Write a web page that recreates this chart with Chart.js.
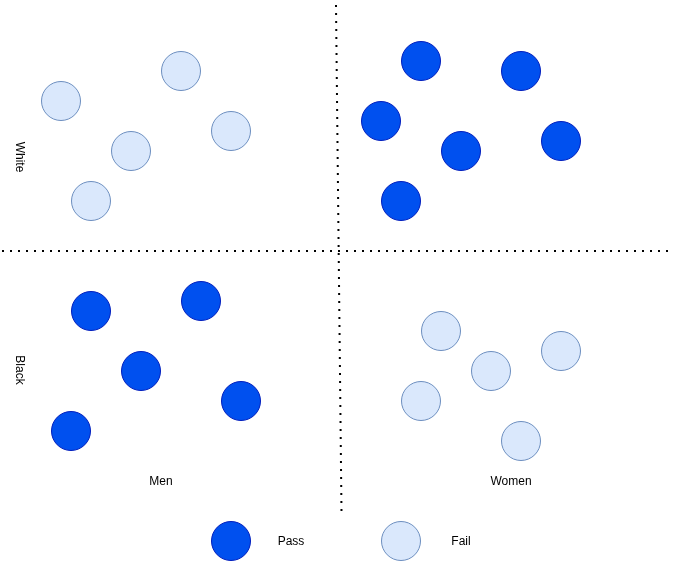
<!DOCTYPE html>
<html>
<head>
<meta charset="utf-8">
<script src="https://cdn.jsdelivr.net/npm/chart.js@4"></script>
<style>
  html, body { margin: 0; padding: 0; background: #ffffff; }
  #wrap { width: 673px; height: 562px; position: relative; }
</style>
</head>
<body>
<div id="wrap"><canvas id="c"></canvas></div>
<script>
// Diagram values (pixel-space coordinates of the reference diagram)
const passX = [421, 521, 381, 461, 561, 401, 91, 201, 141, 241, 71];
const passY = [61, 71, 121, 151, 141, 201, 311, 301, 371, 401, 431];
const failX = [61, 181, 131, 231, 91, 441, 561, 491, 421, 521];
const failY = [101, 71, 151, 131, 201, 331, 351, 371, 401, 441];
const legendLabels = ['Pass', 'Fail'];
const legendX = [231, 401];
const legendY = [541, 541];
const groupLabels = ['Men', 'Women'];
const groupX = [161, 511];
const groupY = [482, 482];
const rowLabels = ['White', 'Black'];
const rowX = [19, 19];
const rowY = [157, 370];
const dividerV = [{x: 336, y: 5}, {x: 341.5, y: 512}];
const dividerH = [{x: 2, y: 251}, {x: 672, y: 251}];

const PASS_FILL = '#0050EF', PASS_STROKE = '#001DBC';
const FAIL_FILL = '#DAE8FC', FAIL_STROKE = '#6C8EBF';

const toPts = (xs, ys) => xs.map((x, i) => ({x: x, y: ys[i]}));

const textPlugin = {
  id: 'texts',
  afterDatasetsDraw(chart) {
    const ctx = chart.ctx;
    const sx = chart.scales.x, sy = chart.scales.y;
    ctx.save();
    ctx.fillStyle = '#000000';
    ctx.font = '12px "Liberation Sans", Arial, sans-serif';
    ctx.textAlign = 'center';
    ctx.textBaseline = 'middle';
    groupLabels.forEach((t, i) => ctx.fillText(t, sx.getPixelForValue(groupX[i]), sy.getPixelForValue(groupY[i])));
    legendLabels.forEach((t, i) => ctx.fillText(t, sx.getPixelForValue(legendX[i] + 60), sy.getPixelForValue(legendY[i] + 1)));
    rowLabels.forEach((t, i) => {
      ctx.save();
      ctx.translate(sx.getPixelForValue(rowX[i]), sy.getPixelForValue(rowY[i]));
      ctx.rotate(Math.PI / 2);
      ctx.fillText(t, 0, 0);
      ctx.restore();
    });
    ctx.restore();
  }
};

const ptStyle = (fill, stroke) => ({
  showLine: false,
  pointStyle: 'circle',
  pointRadius: 19.5,
  pointHoverRadius: 19.5,
  pointBorderWidth: 1,
  pointBackgroundColor: fill,
  pointBorderColor: stroke,
  backgroundColor: fill,
  borderColor: stroke,
  clip: false
});

const lineStyle = {
  showLine: true,
  pointRadius: 0,
  borderColor: '#000000',
  borderWidth: 2,
  borderDash: [2, 6],
  borderCapStyle: 'butt',
  fill: false,
  clip: false
};

new Chart(document.getElementById('c'), {
  type: 'scatter',
  data: {
    datasets: [
      Object.assign({label: 'divV', data: dividerV}, lineStyle),
      Object.assign({label: 'divH', data: dividerH}, lineStyle),
      Object.assign({label: 'Pass', data: toPts(passX, passY)}, ptStyle(PASS_FILL, PASS_STROKE)),
      Object.assign({label: 'Fail', data: toPts(failX, failY)}, ptStyle(FAIL_FILL, FAIL_STROKE)),
      Object.assign({label: 'legendPass', data: [{x: legendX[0], y: legendY[0]}]}, ptStyle(PASS_FILL, PASS_STROKE)),
      Object.assign({label: 'legendFail', data: [{x: legendX[1], y: legendY[1]}]}, ptStyle(FAIL_FILL, FAIL_STROKE))
    ]
  },
  options: {
    responsive: true,
    maintainAspectRatio: false,
    animation: false,
    layout: { padding: 0, autoPadding: false },
    plugins: { legend: { display: false }, tooltip: { enabled: false } },
    events: [],
    scales: {
      x: { type: 'linear', min: 0, max: 673, display: false },
      y: { type: 'linear', min: 0, max: 562, reverse: true, display: false }
    }
  },
  plugins: [textPlugin]
});
</script>
</body>
</html>
